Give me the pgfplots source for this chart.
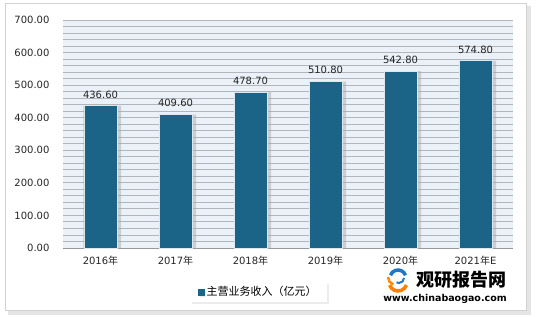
\documentclass[border=0pt]{standalone}
\usepackage{pgfplots}
\pgfplotsset{compat=1.18}
\usepackage{fontspec}
\setmainfont{DejaVu Sans}
\newfontfamily\cjk{Noto Sans CJK SC}
\usetikzlibrary{shadows}
\definecolor{barcol}{RGB}{27,100,135}
\definecolor{plotbg}{RGB}{234,241,248}
\definecolor{gridcol}{RGB}{178,181,186}
\definecolor{logoblue}{RGB}{30,120,200}
\pgfkeys{/pgf/number format/assume math mode=true}
\begin{document}
\begin{tikzpicture}
\begin{scope}[x=1pt,y=1pt,shift={(-63pt,-70pt)}]
\fill[white] (0,0) rectangle (538,318);
\fill[black!10] (8,3) rectangle (531,312);
\filldraw[fill=white,draw=black!18] (5,8) rectangle (526,315);
\end{scope}
\begin{axis}[
  at={(0pt,0pt)}, anchor=south west,
  scale only axis, width=450pt, height=228pt,
  xmin=-0.5, xmax=5.5, ymin=0, ymax=700,
  axis x line*=bottom, axis y line*=left,
  y axis line style={draw=none},
  x axis line style={draw=black!40, line width=0.8pt},
  axis background/.style={fill=plotbg},
  ytick={0,100,...,700}, minor y tick num=4,
  ymajorgrids, yminorgrids,
  major grid style={draw=gridcol, line width=0.9pt},
  minor grid style={draw=gridcol, line width=0.9pt},
  tick style={draw=none},
  major tick length=0pt, minor tick length=0pt,
  xtick={0,1,2,3,4,5},
  xticklabels={2016{\cjk 年},2017{\cjk 年},2018{\cjk 年},2019{\cjk 年},2020{\cjk 年},2021{\cjk 年}E},
  yticklabel style={/pgf/number format/.cd,fixed,fixed zerofill,precision=2},
  tick label style={font=\fontsize{10}{12}\selectfont, text=black!85},
  yticklabel shift=10pt,
  xticklabel shift=5pt,
  legend style={at={(0.434,-0.193)}, anchor=center, draw=none, fill=white,
    drop shadow={opacity=0.15, shadow xshift=2pt, shadow yshift=-2pt},
    font=\cjk\fontsize{11}{13}\selectfont, inner xsep=8pt, inner ysep=3pt},
  legend image code/.code={\fill[barcol] (0pt,-3pt) rectangle (6pt,3pt);},
  clip=false,
]
\addplot[ybar, bar width=37pt, bar shift=2pt, fill=black!35, draw=none, opacity=0.45, forget plot]
  coordinates {(0,436.6) (1,409.6) (2,478.7) (3,510.8) (4,542.8) (5,574.8)};
\addplot[ybar, bar width=33pt, bar shift=0pt, fill=barcol, draw=white!85!barcol, line width=0.6pt,
  nodes near coords={\pgfmathprintnumber[fixed,fixed zerofill,precision=2]{\pgfplotspointmeta}},
  every node near coord/.append style={font=\fontsize{10}{12}\selectfont, text=black!85, yshift=4pt}]
  coordinates {(0,436.6) (1,409.6) (2,478.7) (3,510.8) (4,542.8) (5,574.8)};
\addlegendentry{主营业务收入（亿元）}
\end{axis}
\begin{scope}[x=1pt,y=1pt,shift={(-63pt,-70pt)}]
\draw[orange, line width=3.5pt] (398,36) ++(200:9) arc (200:340:9);
\draw[orange!90!yellow, line width=2.5pt] (388,41) arc (180:250:8);
\draw[logoblue, line width=3.5pt] (398,40) ++(20:8) arc (20:160:8);
\draw[logoblue, line width=2pt] (404,40) arc (0:-120:5);
\node[anchor=west, inner sep=0pt, font=\cjk\bfseries\fontsize{18}{18}\selectfont] at (416,38) {观研报告网};
\node[anchor=center, inner sep=0pt, font=\bfseries\fontsize{9.5}{11}\selectfont] at (445,19) {www.chinabaogao.com};
\end{scope}
\end{tikzpicture}
\end{document}
